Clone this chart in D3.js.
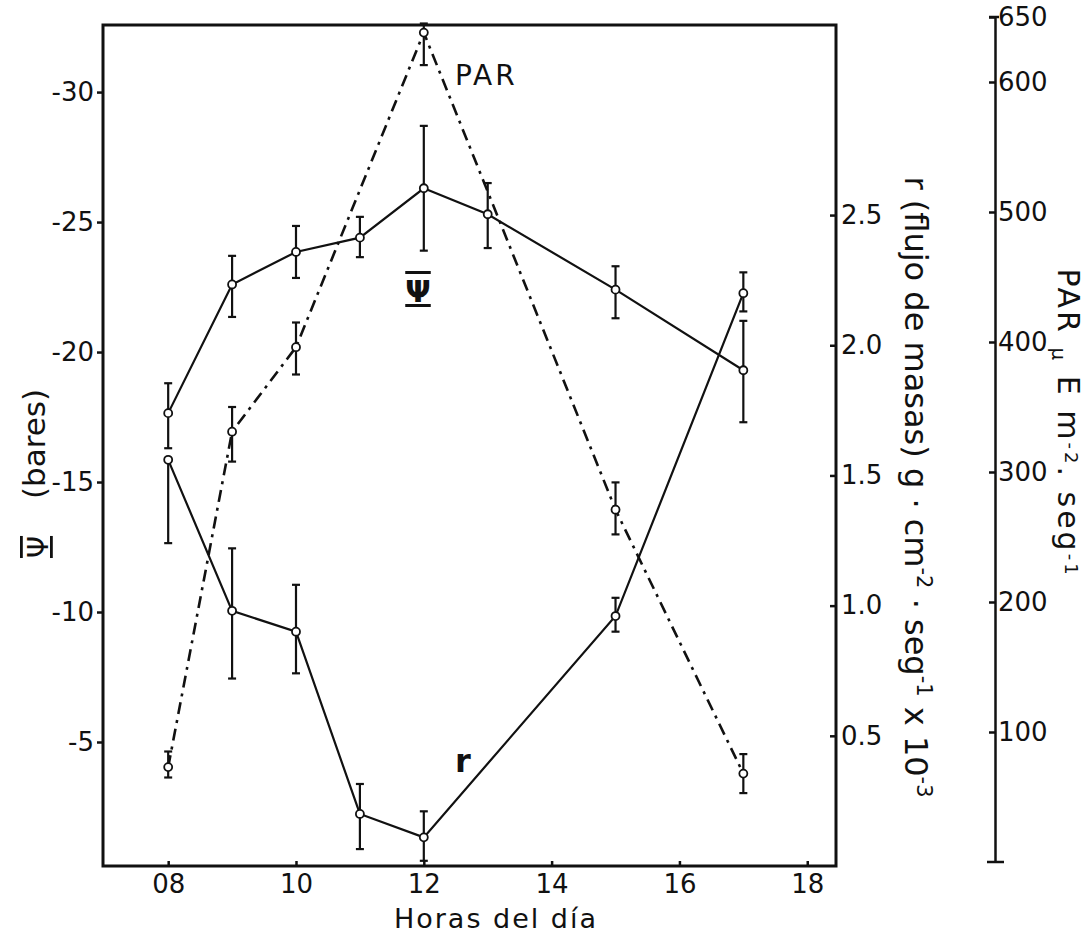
<!DOCTYPE html>
<html>
<head>
<meta charset="utf-8">
<script src="https://cdn.jsdelivr.net/npm/d3@7"></script>
<style>
  body { margin: 0; background: #fff; }
  svg { display: block; }
  text { font-family: 'DejaVu Sans', sans-serif; fill: #111; }
  .axis text { font-size: 26px; fill: #111; }
  .axis line, .axis path { stroke: #111; stroke-width: 2.5; }
</style>
</head>
<body>
<script>
// horas del dia para cada serie
const psiHours = [8, 9, 10, 11, 12, 13, 15, 17];
const psiMean = [-17.65, -22.6, -23.85, -24.4, -26.3, -25.3, -22.4, -19.3];
const psiHi = [-18.8, -23.7, -24.85, -25.2, -28.7, -26.5, -23.3, -21.2];
const psiLo = [-16.3, -21.35, -22.85, -23.65, -23.9, -24.0, -21.3, -17.3];

const rHours = [8, 9, 10, 11, 12, 15, 17];
const rMean = [1.56, 0.98, 0.90, 0.20, 0.11, 0.96, 2.20];
const rHi = [1.56, 1.22, 1.08, 0.315, 0.21, 1.03, 2.28];
const rLo = [1.24, 0.72, 0.74, 0.065, 0.02, 0.90, 2.13];

const parHours = [8, 9, 10, 12, 15, 17];
const parMean = [73, 331, 396, 638, 271, 68];
const parHi = [85, 350, 415, 645, 292, 83];
const parLo = [65, 308, 375, 613, 252, 53];

// ticks
const xTicks = [8, 10, 12, 14, 16, 18];
const psiTicks = [-30, -25, -20, -15, -10, -5];
const rTicks = [0.5, 1.0, 1.5, 2.0, 2.5];
const parTicks = [100, 200, 300, 400, 500, 600, 650];

const width = 1090;
const height = 939;
const plotLeft = 103, plotRight = 836, plotTop = 25, plotBottom = 866;
const parAxisX = 995;

const svg = d3.select('body')
  .append('svg')
  .attr('width', width)
  .attr('height', height);

const x = d3.scaleLinear().domain([6.98, 18.45]).range([plotLeft, plotRight]);
const psiY = d3.scaleLinear().domain([-0.23, -32.58]).range([plotBottom, plotTop]);
const rY = d3.scaleLinear().domain([0, 3.23]).range([plotBottom, plotTop]);
const parY = d3.scaleLinear().domain([0, 650]).range([862, 17]);

// axes
svg.append('g')
  .attr('class', 'axis')
  .attr('transform', 'translate(' + plotLeft + ',0)')
  .call(d3.axisLeft(psiY).tickValues(psiTicks).tickSize(6).tickPadding(3)
    .tickFormat(function (d) { return d.toString(); }))
  .call(function (g) { g.select('.domain').remove(); });

svg.append('g')
  .attr('class', 'axis')
  .attr('transform', 'translate(0,' + plotBottom + ')')
  .call(d3.axisBottom(x).tickValues(xTicks).tickSizeInner(-5).tickSizeOuter(0).tickPadding(9)
    .tickFormat(d3.format('02d')))
  .call(function (g) { g.select('.domain').remove(); });

svg.append('g')
  .attr('class', 'axis')
  .attr('transform', 'translate(' + plotRight + ',0)')
  .call(d3.axisRight(rY).tickValues(rTicks).tickSizeInner(-6).tickSizeOuter(0).tickPadding(5)
    .tickFormat(d3.format('.1f')))
  .call(function (g) { g.select('.domain').remove(); });

const parAxis = svg.append('g')
  .attr('class', 'axis')
  .attr('transform', 'translate(' + parAxisX + ',0)')
  .call(d3.axisRight(parY).tickValues(parTicks).tickSizeInner(-6).tickSizeOuter(0).tickPadding(3));
parAxis.select('.domain').attr('stroke-width', 3);
// end caps of the PAR scale
parAxis.append('line')
  .attr('x1', -6).attr('x2', 4)
  .attr('y1', parY(650)).attr('y2', parY(650));
parAxis.append('line')
  .attr('x1', -8).attr('x2', 9)
  .attr('y1', parY(0)).attr('y2', parY(0))
  .attr('stroke-width', 3);

// frame
svg.append('rect')
  .attr('x', plotLeft).attr('y', plotTop)
  .attr('width', plotRight - plotLeft).attr('height', plotBottom - plotTop)
  .attr('fill', 'none')
  .attr('stroke', '#111')
  .attr('stroke-width', 3);

const plot = svg.append('g');

function drawSeries(hours, mean, lo, hi, yScale, dash) {
  const pts = hours.map(function (h, i) {
    return { h: h, v: mean[i], lo: lo[i], hi: hi[i] };
  });

  plot.append('path')
    .datum(pts)
    .attr('fill', 'none')
    .attr('stroke', '#111')
    .attr('stroke-width', dash ? 2.6 : 2.2)
    .attr('stroke-dasharray', dash ? '12,6,3,6' : null)
    .attr('d', d3.line()
      .x(function (d) { return x(d.h); })
      .y(function (d) { return yScale(d.v); }));

  const bars = plot.append('g')
    .attr('stroke', '#111')
    .attr('stroke-width', 2.2);

  bars.selectAll('line.v')
    .data(pts).enter()
    .append('line')
    .attr('class', 'v')
    .attr('x1', function (d) { return x(d.h); })
    .attr('x2', function (d) { return x(d.h); })
    .attr('y1', function (d) { return yScale(d.lo); })
    .attr('y2', function (d) { return yScale(d.hi); });

  ['lo', 'hi'].forEach(function (k) {
    bars.selectAll('line.' + k)
      .data(pts).enter()
      .append('line')
      .attr('class', k)
      .attr('x1', function (d) { return x(d.h) - 4; })
      .attr('x2', function (d) { return x(d.h) + 4; })
      .attr('y1', function (d) { return yScale(d[k]); })
      .attr('y2', function (d) { return yScale(d[k]); });
  });

  plot.append('g')
    .selectAll('circle')
    .data(pts).enter()
    .append('circle')
    .attr('cx', function (d) { return x(d.h); })
    .attr('cy', function (d) { return yScale(d.v); })
    .attr('r', 4)
    .attr('fill', '#fff')
    .attr('stroke', '#111')
    .attr('stroke-width', 1.8);
}

drawSeries(parHours, parMean, parLo, parHi, parY, true);
drawSeries(psiHours, psiMean, psiLo, psiHi, psiY, false);
drawSeries(rHours, rMean, rLo, rHi, rY, false);

// labels inside the plot
svg.append('text')
  .attr('x', 455).attr('y', 85)
  .style('font-size', '28px')
  .style('letter-spacing', '3px')
  .text('PAR');

svg.append('text')
  .attr('x', 455).attr('y', 772)
  .style('font-size', '32px')
  .style('font-weight', 'bold')
  .text('r');

svg.append('text')
  .attr('x', 418).attr('y', 302)
  .attr('text-anchor', 'middle')
  .style('font-size', '30px')
  .style('font-weight', 'bold')
  .style('text-decoration', 'overline underline')
  .text('Ψ');

// axis titles
svg.append('text')
  .attr('x', 496).attr('y', 928)
  .attr('text-anchor', 'middle')
  .style('font-size', '27px')
  .style('letter-spacing', '2px')
  .text('Horas del día');

svg.append('text')
  .attr('transform', 'translate(45,444) rotate(-90)')
  .attr('text-anchor', 'middle')
  .style('font-size', '31px')
  .text('(bares)');

svg.append('text')
  .attr('transform', 'translate(48,547) rotate(-90)')
  .attr('text-anchor', 'middle')
  .style('font-size', '28px')
  .style('text-decoration', 'overline underline')
  .text('Ψ');

const rTitle = svg.append('text')
  .attr('transform', 'translate(905,487) rotate(90)')
  .attr('text-anchor', 'middle')
  .style('font-size', '32px');
rTitle.append('tspan').text('r (flujo de masas) g · cm');
rTitle.append('tspan').attr('baseline-shift', 'super').style('font-size', '21px').text('-2');
rTitle.append('tspan').text(' · seg');
rTitle.append('tspan').attr('baseline-shift', 'super').style('font-size', '21px').text('-1');
rTitle.append('tspan').text(' x 10');
rTitle.append('tspan').attr('baseline-shift', 'super').style('font-size', '21px').text('-3');

const parTitle = svg.append('text')
  .attr('transform', 'translate(1058,423) rotate(90)')
  .attr('text-anchor', 'middle')
  .style('font-size', '30px')
  .style('letter-spacing', '3px');
parTitle.append('tspan').text('PAR ');
parTitle.append('tspan').attr('baseline-shift', '-6px').style('font-size', '20px').text('μ');
parTitle.append('tspan').text(' E m');
parTitle.append('tspan').attr('baseline-shift', '7px').style('font-size', '18px').text('-2');
parTitle.append('tspan').text('. seg');
parTitle.append('tspan').attr('baseline-shift', '7px').style('font-size', '18px').text('-1');
</script>
</body>
</html>
